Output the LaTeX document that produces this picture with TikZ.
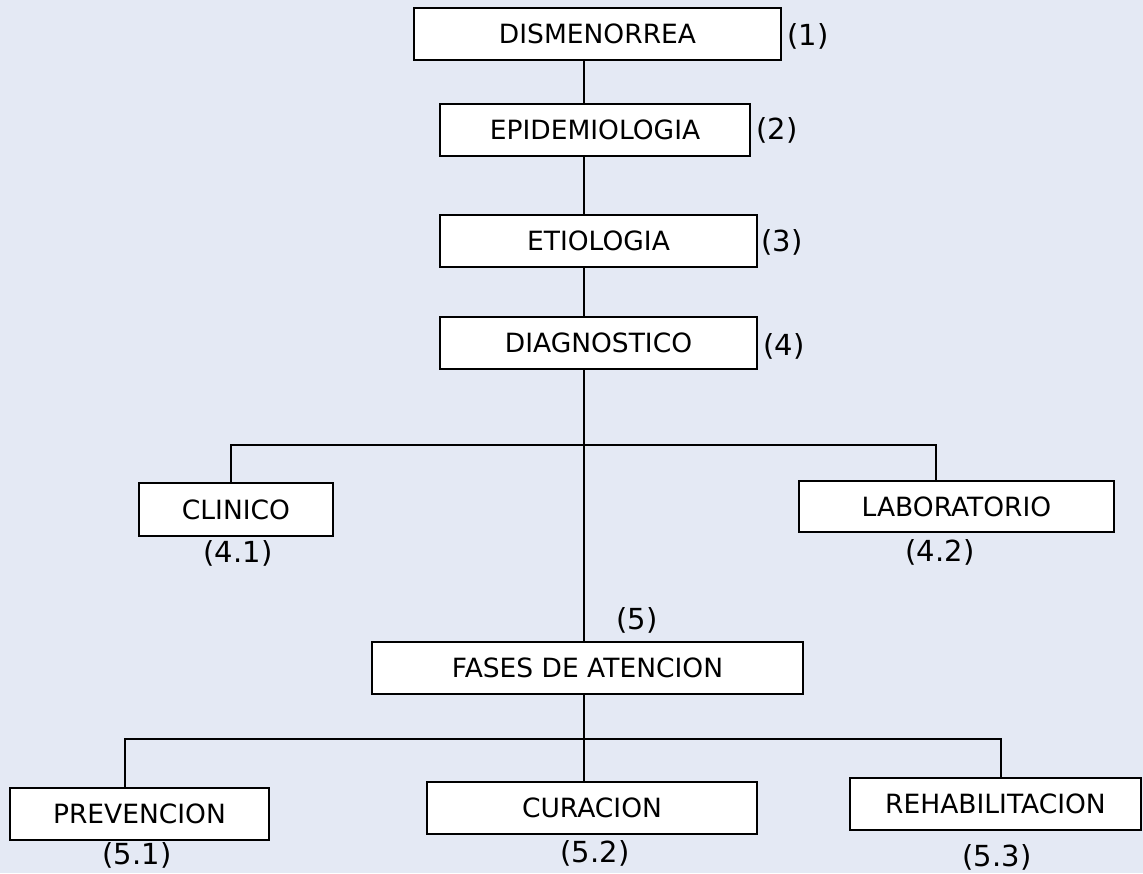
\documentclass[tikz,border=0pt]{standalone}
\usepackage{fontspec}
\setmainfont{DejaVu Sans}
\usepackage{tikz}
\definecolor{paper}{RGB}{228,233,244}
\tikzstyle{topic} = [rectangle, inner sep=0pt, text centered, draw=black, line width=1.8pt, fill=white, font=\fontsize{26.5}{30}\selectfont]
\tikzstyle{num} = [inner sep=0pt, font=\fontsize{29}{32}\selectfont]
\tikzstyle{link} = [line width=1.8pt]

\begin{document}
\begin{tikzpicture}[x=1pt,y=-1pt]
				\fill [paper] (0,0) rectangle (1143,873);
				\useasboundingbox (0,0) rectangle (1143,873);
				
				\node (dis) [topic, minimum width=367pt, minimum height=52pt] at (597.5,34) {DISMENORREA};
				\node (epi) [topic, minimum width=310pt, minimum height=52pt] at (595,130) {EPIDEMIOLOGIA};
				\node (eti) [topic, minimum width=317pt, minimum height=52pt] at (598.5,241) {ETIOLOGIA};
				\node (diag) [topic, minimum width=317pt, minimum height=52pt] at (598.5,343) {DIAGNOSTICO};
				\node (cli) [topic, minimum width=194pt, minimum height=53pt] at (236,509.5) {CLINICO};
				\node (lab) [topic, minimum width=315pt, minimum height=51pt] at (956.5,506.5) {LABORATORIO};
				\node (fases) [topic, minimum width=431pt, minimum height=52pt] at (587.5,668) {FASES DE ATENCION};
				\node (prev) [topic, minimum width=259pt, minimum height=52pt] at (139.5,814) {PREVENCION};
				\node (cur) [topic, minimum width=330pt, minimum height=52pt] at (592,808) {CURACION};
				\node (reh) [topic, minimum width=291pt, minimum height=52pt] at (995.5,804) {REHABILITACION};
				
				\node (n1) [num] at (808,36) {(1)};
				\node (n2) [num] at (777,130) {(2)};
				\node (n3) [num] at (782,242) {(3)};
				\node (n4) [num] at (784,346) {(4)};
				\node (n41) [num] at (238,553) {(4.1)};
				\node (n42) [num] at (940,552) {(4.2)};
				\node (n5) [num] at (637,620) {(5)};
				\node (n51) [num] at (137,855) {(5.1)};
				\node (n52) [num] at (595,853) {(5.2)};
				\node (n53) [num] at (997,857) {(5.3)};
				
				% branch points on the trunk
				\coordinate (split1) at (584,445);
				\coordinate (split2) at (584,739);
				\coordinate (cl) at (231,445);
				\coordinate (lb) at (936,445);
				\coordinate (pv) at (125,739);
				\coordinate (rh) at (1001,739);
				
				\draw [link] (dis.south -| split1) -- (epi.north -| split1);
				\draw [link] (epi.south -| split1) -- (eti.north -| split1);
				\draw [link] (eti.south -| split1) -- (diag.north -| split1);
				\draw [link] (diag.south -| split1) -- (fases.north -| split1);
				\draw [link] (fases.south -| split2) -- (cur.north -| split2);
				
				\draw [link] (cli.north -| cl) -- (cl) -- (lb) -- (lab.north -| lb);
				\draw [link] (prev.north -| pv) -- (pv) -- (rh) -- (reh.north -| rh);
				
\end{tikzpicture}
\end{document}
